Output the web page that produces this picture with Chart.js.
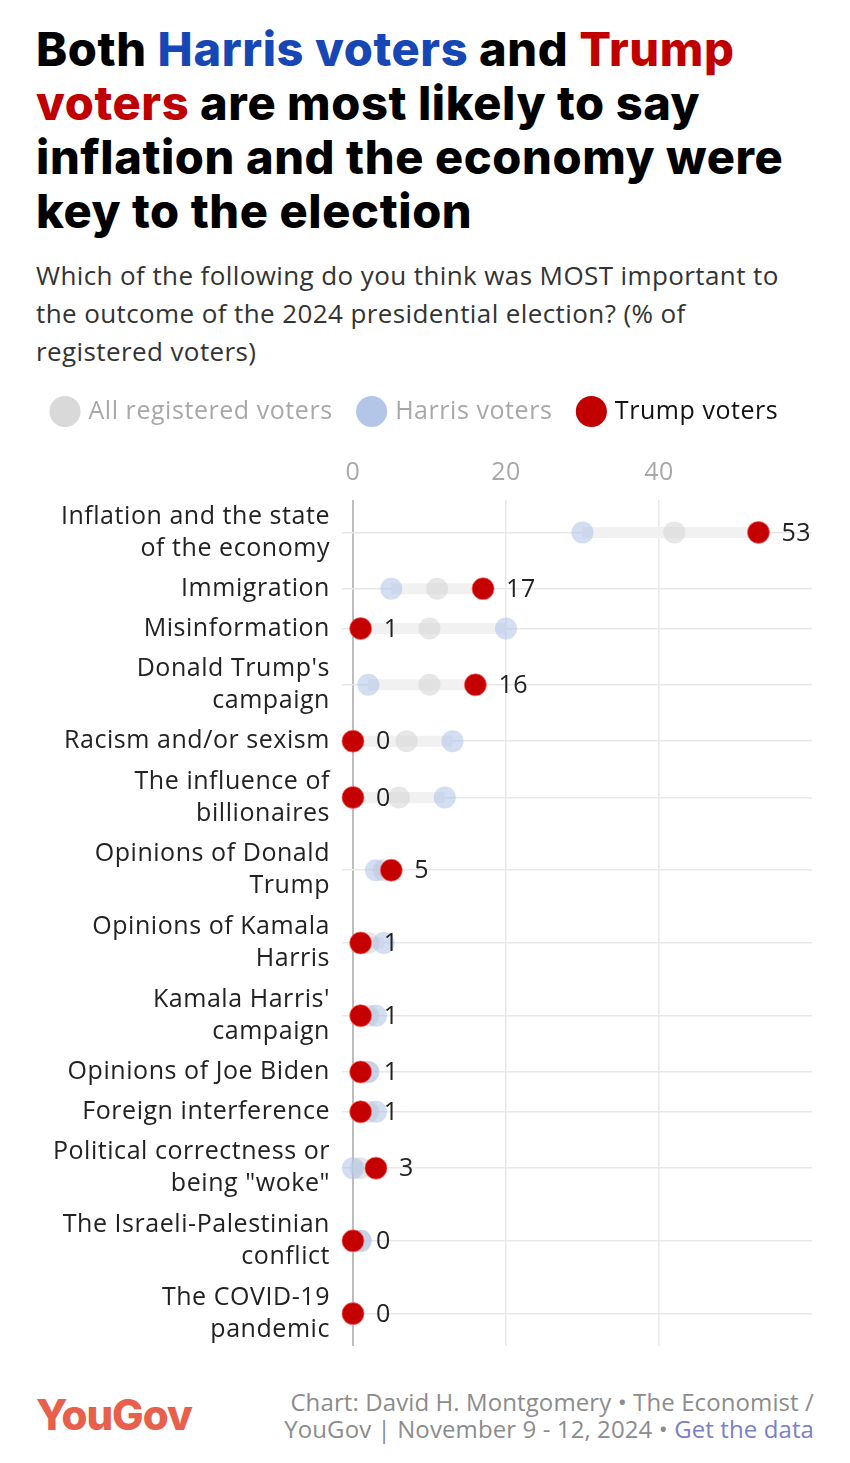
<!DOCTYPE html>
<html>
<head>
<meta charset="utf-8">
<script src="https://cdn.jsdelivr.net/npm/chart.js@4.4.1/dist/chart.umd.min.js"></script>
<style>
  body { margin: 0; background: #fff; width: 850px; height: 1463px; position: relative; overflow: hidden; font-family: "Open Sans", sans-serif; }
  #title { position: absolute; left: 36px; top: 22px; width: 814px; font-family: Inter, sans-serif; font-weight: 800; font-size: 47px; line-height: 54px; color: #000; letter-spacing: 0.6px; white-space: nowrap; }
  .harris { color: #1747b5; }
  .trump { color: #c00000; }
  #sub { position: absolute; left: 36px; top: 256px; width: 814px; font-size: 26px; line-height: 38px; color: #333; letter-spacing: 0.4px; white-space: nowrap; }
  #wrap { position: absolute; left: 26px; top: 371px; width: 824px; height: 987px; }
  #logo { position: absolute; left: 36px; top: 1389px; font-family: Inter, sans-serif; font-weight: 800; font-size: 42px; color: #e8604c; letter-spacing: -1px; }
  #src { position: absolute; right: 36px; top: 1388px; text-align: right; font-size: 24px; line-height: 27px; color: #8c8c8c; letter-spacing: 0.1px; white-space: nowrap; }
  #src span { color: #7b80c8; }
</style>
</head>
<body>
<div id="title">Both <span class="harris">Harris voters</span> and <span class="trump">Trump</span><br><span class="trump">voters</span> are most likely to say<br>inflation and the economy were<br>key to the election</div>
<div id="sub">Which of the following do you think was MOST important to<br>the outcome of the 2024 presidential election? (% of<br>registered voters)</div>
<div id="wrap"><canvas id="myChart"></canvas></div>
<div id="logo">YouGov</div>
<div id="src">Chart: David H. Montgomery • The Economist /<br>YouGov | November 9 - 12, 2024 • <span>Get the data</span></div>

<script>
// categories, each one split into the lines of its label
const categories = [
  ['Inflation and the state', 'of the economy'],
  ['Immigration'],
  ['Misinformation'],
  ["Donald Trump's", 'campaign'],
  ['Racism and/or sexism'],
  ['The influence of', 'billionaires'],
  ['Opinions of Donald', 'Trump'],
  ['Opinions of Kamala', 'Harris'],
  ["Kamala Harris'", 'campaign'],
  ['Opinions of Joe Biden'],
  ['Foreign interference'],
  ['Political correctness or', 'being "woke"'],
  ['The Israeli-Palestinian', 'conflict'],
  ['The COVID-19', 'pandemic']
];

// % of each group
const allVoters    = [42, 11, 10, 10, 7, 6, 4, 2, 2, 2, 2, 1, 1, 0];
const harrisVoters = [30, 5, 20, 2, 13, 12, 3, 4, 3, 2, 3, 0, 1, 0];
const trumpVoters  = [53, 17, 1, 16, 0, 0, 5, 1, 1, 1, 1, 3, 0, 0];

const xTicks = [0, 20, 40];

const seriesNames = ['All registered voters', 'Harris voters', 'Trump voters'];

// rows get taller when their label needs two lines
let rowPos = [];
let total = 0;
for (let i = 0; i < categories.length; i++) {
  let h = 7 + 33 * categories[i].length;
  rowPos.push(total + h / 2);
  total += h;
}

Chart.defaults.font.family = '"Open Sans", sans-serif';

function toPoints(arr) {
  return arr.map((v, i) => ({ x: v, y: rowPos[i] }));
}

const legendFill = ['#d9d9d9', '#b3c6e8', '#c20000'];
const legendText = ['#a8a8a8', '#a8a8a8', '#111111'];

// a bit wider lettering, closer to the original typeface
const spacingPlugin = {
  id: 'spacing',
  beforeLayout(chart) { chart.ctx.letterSpacing = '0.55px'; },
  beforeDraw(chart) { chart.ctx.letterSpacing = '0.55px'; }
};

// light grey band from the lowest to the highest dot of each row
const bandPlugin = {
  id: 'bands',
  beforeDatasetsDraw(chart) {
    const ctx = chart.ctx;
    const xs = chart.scales.x, ys = chart.scales.y;
    ctx.save();
    ctx.strokeStyle = '#f1f1f1';
    ctx.lineWidth = 11;
    for (let i = 0; i < categories.length; i++) {
      let vals = [allVoters[i], harrisVoters[i], trumpVoters[i]];
      let y = ys.getPixelForValue(rowPos[i]);
      ctx.beginPath();
      ctx.moveTo(xs.getPixelForValue(Math.min(...vals)), y);
      ctx.lineTo(xs.getPixelForValue(Math.max(...vals)), y);
      ctx.stroke();
    }
    ctx.restore();
  }
};

// number beside each Trump dot
const valuePlugin = {
  id: 'values',
  afterDatasetsDraw(chart) {
    const ctx = chart.ctx;
    const meta = chart.getDatasetMeta(2);
    ctx.save();
    ctx.font = '25px "Open Sans", sans-serif';
    ctx.fillStyle = '#222';
    ctx.textAlign = 'left';
    ctx.textBaseline = 'middle';
    meta.data.forEach((pt, i) => {
      ctx.fillText(String(trumpVoters[i]), pt.x + 23, pt.y + 1);
    });
    ctx.restore();
  }
};

const data = {
  datasets: [
    {
      label: seriesNames[0],
      data: toPoints(allVoters),
      clip: false,
      pointRadius: 11, pointHoverRadius: 11,
      pointBackgroundColor: 'rgba(212,212,212,0.55)',
      pointBorderWidth: 0,
      order: 2
    },
    {
      label: seriesNames[1],
      data: toPoints(harrisVoters),
      clip: false,
      pointRadius: 11, pointHoverRadius: 11,
      pointBackgroundColor: 'rgba(168,190,232,0.5)',
      pointBorderWidth: 0,
      order: 1
    },
    {
      label: seriesNames[2],
      data: toPoints(trumpVoters),
      clip: false,
      pointRadius: 11, pointHoverRadius: 11,
      pointBackgroundColor: '#c40000',
      pointBorderColor: 'rgba(255,110,110,0.7)',
      pointBorderWidth: 1,
      order: 0
    }
  ]
};

const config = {
  type: 'scatter',
  data: data,
  plugins: [spacingPlugin, bandPlugin, valuePlugin],
  options: {
    responsive: true,
    maintainAspectRatio: false,
    animation: false,
    layout: { padding: { left: 0, right: 38, bottom: 10 } },
    plugins: {
      tooltip: { enabled: false },
      legend: {
        position: 'top',
        align: 'start',
        labels: {
          usePointStyle: true,
          boxWidth: 22,
          boxHeight: 22,
          padding: 28,
          font: { size: 25 },
          generateLabels: chart => chart.data.datasets.map((d, i) => ({
            text: d.label,
            fillStyle: legendFill[i],
            strokeStyle: legendFill[i],
            lineWidth: 0,
            pointStyle: 'circle',
            fontColor: legendText[i],
            datasetIndex: i,
            hidden: false
          }))
        }
      }
    },
    scales: {
      x: {
        type: 'linear',
        position: 'top',
        min: 0,
        max: 60,
        afterBuildTicks: s => { s.ticks = xTicks.map(v => ({ value: v })); },
        afterFit: s => { s.height = 66; s.paddingLeft = 0; s.paddingRight = 0; },
        border: { display: false },
        grid: {
          drawTicks: false,
          color: c => (c.tick && c.tick.value === 0) ? '#bdbdbd' : '#e8e8e8',
          lineWidth: c => (c.tick && c.tick.value === 0) ? 2 : 1.5
        },
        ticks: { color: '#a8a8a8', font: { size: 25 }, padding: 12 }
      },
      y: {
        type: 'linear',
        reverse: true,
        min: 4,
        max: total - 4,
        afterBuildTicks: s => { s.ticks = rowPos.map(v => ({ value: v })); },
        afterFit: s => { s.width = 327; s.paddingTop = 0; s.paddingBottom = 0; },
        border: { display: false },
        grid: { color: '#e8e8e8', lineWidth: 1.5, tickLength: 11 },
        ticks: {
          autoSkip: false,
          color: '#222',
          font: { size: 25, lineHeight: 1.28 },
          padding: 12,
          callback: (v, i) => categories[i]
        }
      }
    }
  }
};

const myChart = new Chart(document.getElementById('myChart'), config);
</script>
</body>
</html>
